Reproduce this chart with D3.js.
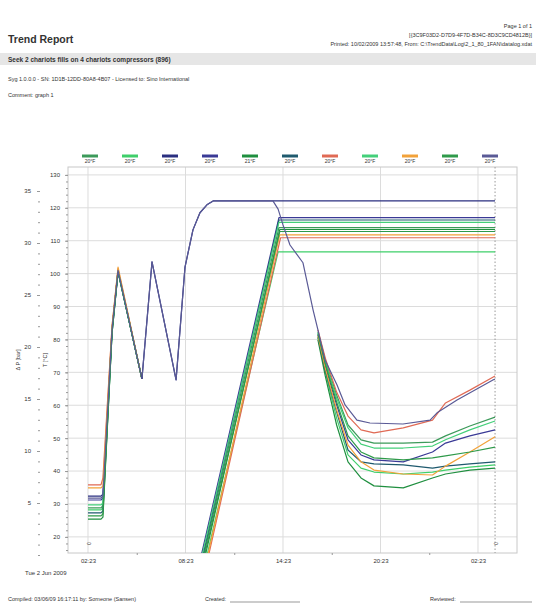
<!DOCTYPE html>
<html>
<head>
<meta charset="utf-8">
<script src="https://cdn.jsdelivr.net/npm/d3@7"></script>
<style>
body { margin: 0; background: #fff; }
svg { font-family: "Liberation Sans", Arial, sans-serif; }
svg text { fill: #333; }
</style>
</head>
<body>
<svg id="chart" width="536" height="606"></svg>
<script>
// series shown in the legend
const seriesNames = ["20°F", "20°F", "20°F", "20°F", "21°F", "20°F", "20°F", "20°F", "20°F", "20°F", "20°F"];
const seriesColors = ["#3c9a5a", "#3fcf6a", "#2a2f80", "#3a3a96", "#1f8f3f", "#1f5a6e",
                      "#e06a55", "#44d07a", "#f2a23a", "#2f9a4a", "#5a5a96"];

// axis ticks
const tickHours = [0, 6, 12, 18, 24];
const tickLabels = ["02:23", "08:23", "14:23", "20:23", "02:23"];
const tempTicks = [20, 30, 40, 50, 60, 70, 80, 90, 100, 110, 120, 130];
const pressTicks = [5, 10, 15, 20, 25, 30, 35];

// start-up spike, every series
const startHours = [0, 0.8, 0.92, 1.48, 1.85, 3.32];
const startValues = [
  [28.8, 28.8, 29.5, 83, 101, 68],
  [28.2, 28.2, 28.9, 83, 101, 68],
  [32.4, 32.4, 33.0, 83, 101, 68],
  [31.2, 31.2, 31.8, 83, 101, 68],
  [25.4, 25.4, 26.0, 82, 100.5, 68],
  [27.3, 27.3, 27.9, 82, 100.5, 68],
  [35.8, 35.8, 37.9, 84, 101.5, 68],
  [29.7, 29.7, 30.3, 83, 101, 68],
  [34.9, 34.9, 35.5, 84, 102, 68],
  [26.4, 26.4, 27.0, 82, 100.5, 68],
  [31.8, 31.8, 32.4, 83, 101, 68]
];

// second and third spike + long plateau (series 2)
const spikeHours = [3.32, 3.94, 5.42, 5.97, 6.46, 6.89, 7.32, 7.7, 11.38, 25.05];
const spikeValues = [68, 103.6, 67.7, 102, 113.3, 118.5, 120.9, 122.1, 122.1, 122.1];

// series 10 follows the spikes, then drops off the plateau
const descentHours = [3.32, 3.94, 5.42, 5.97, 6.46, 6.89, 7.32, 7.7, 11.38, 11.7, 12, 12.43, 13.23, 13.85,
                      14.15, 14.58, 15.32, 15.82, 16.55, 17.35, 19.38, 21.05, 21.48, 22.71, 24.92, 25.05];
const descentValues = [68, 103.6, 67.7, 102, 113.3, 118.5, 120.9, 122.1, 122.1, 119.6, 114.8, 108.7, 103.3, 89,
                       82.9, 73.8, 66.2, 60.1, 55.5, 54.6, 54.3, 55.5, 57.7, 61.6, 67.7, 67.9];

// ramp up to a plateau, other series
const rampSeries = [0, 1, 3, 4, 5, 6, 7, 8, 9];
const rampStart = [7.15, 7.35, 7.0, 7.25, 7.1, 7.45, 7.05, 7.4, 7.2];
const rampTop = [11.75, 11.7, 11.75, 11.8, 11.75, 11.85, 11.75, 11.8, 11.8];
const plateau = [114.0, 106.6, 117.0, 113.4, 116.3, 110.9, 115.6, 111.8, 112.8];
const rampFloor = 15;
const plateauEnd = 25.05;

// cool-down curves, same order as rampSeries
const fanHours = [14.15, 14.6, 15.3, 16.0, 16.8, 17.6, 19.4, 21.2, 22.0, 23.5, 25.05];
const fanValues = [
  [82.3, 73.8, 63.1, 54.0, 49.5, 48.5, 48.5, 48.8, 50.7, 53.7, 56.4],
  [80.5, 70.1, 56.1, 44.9, 40.9, 39.7, 39.1, 39.7, 40.3, 41.2, 41.9],
  [81.4, 72.0, 60.1, 49.5, 44.9, 43.4, 42.8, 45.8, 48.5, 50.7, 52.5],
  [79.9, 68.9, 54.0, 42.8, 37.9, 35.5, 34.9, 37.9, 39.1, 40.3, 40.9],
  [80.8, 70.7, 58.0, 46.4, 42.8, 42.2, 41.9, 40.9, 41.5, 42.2, 42.8],
  [82.9, 74.4, 64.0, 56.7, 52.5, 51.6, 53.1, 55.5, 60.7, 64.6, 68.9],
  [82.0, 73.2, 62.2, 53.1, 48.2, 47.0, 47.0, 47.6, 49.5, 52.5, 55.2],
  [81.1, 71.3, 58.6, 47.9, 42.8, 40.3, 39.1, 38.8, 41.5, 45.8, 50.4],
  [81.7, 72.6, 61.0, 50.7, 45.8, 44.0, 43.4, 44.0, 44.6, 45.8, 47.3]
];

const svg = d3.select("#chart");

// ---- page header ----
svg.append("text").attr("x", 8).attr("y", 43)
  .style("font-size", "10.5px").style("font-weight", "bold").text("Trend Report");

const rightHead = ["Page 1 of 1",
  "[{3C9F03D2-D7D9-4F7D-B34C-8D3C9CD4812B}]",
  "Printed: 10/02/2009 13:57:48, From: C:\\TrendData\\Log\\2_1_80_1FAN\\datalog.xdat"];
rightHead.forEach(function(t, i) {
  svg.append("text").attr("x", 532).attr("y", 28 + i * 9).attr("text-anchor", "end")
    .style("font-size", "5.5px").text(t);
});

svg.append("rect").attr("x", 0).attr("y", 53).attr("width", 536).attr("height", 12).attr("fill", "#e6e6e6");
svg.append("text").attr("x", 8).attr("y", 62)
  .style("font-size", "6.5px").style("font-weight", "bold")
  .text("Seek 2 chariots fills on 4 chariots compressors (896)");
svg.append("text").attr("x", 8).attr("y", 81).style("font-size", "5.5px")
  .text("Syg 1.0.0.0 - SN: 1D1B-12DD-80A8-4B07 - Licensed to: Sino International");
svg.append("text").attr("x", 8).attr("y", 97).style("font-size", "5.5px").text("Comment: graph 1");

// ---- scales ----
const plotLeft = 68, plotRight = 517, plotTop = 167, plotBottom = 553;

const x = d3.scaleLinear().domain([-1.23, 26.4]).range([plotLeft, plotRight]);
const y = d3.scaleLinear().domain([15.1, 132.4]).range([plotBottom, plotTop]);
const y2 = d3.scaleLinear().domain([0, 35]).range([555, 191]);

// ---- legend ----
const legend = svg.append("g").selectAll("g")
  .data(seriesNames)
  .enter()
  .append("g")
  .attr("transform", (d, i) => "translate(" + (90 + i * 40) + ",156)");

legend.append("line")
  .attr("x1", -8).attr("x2", 8)
  .attr("stroke", (d, i) => seriesColors[i])
  .attr("stroke-width", 3);

legend.append("text")
  .attr("y", 7).attr("text-anchor", "middle")
  .style("font-size", "5px")
  .text(d => d);

// ---- grid and frame ----
const grid = svg.append("g");
grid.selectAll(".h").data(tempTicks).enter().append("line")
  .attr("x1", plotLeft).attr("x2", plotRight)
  .attr("y1", d => y(d)).attr("y2", d => y(d))
  .attr("stroke", "#dcdcdc");
grid.selectAll(".v").data(tickHours).enter().append("line")
  .attr("x1", d => x(d)).attr("x2", d => x(d))
  .attr("y1", plotTop).attr("y2", plotBottom)
  .attr("stroke", "#dcdcdc");
svg.append("rect")
  .attr("x", plotLeft).attr("y", plotTop).attr("width", plotRight - plotLeft).attr("height", plotBottom - plotTop)
  .attr("fill", "none").attr("stroke", "#c8c8c8");

// cursor line
svg.append("line")
  .attr("x1", x(plateauEnd)).attr("x2", x(plateauEnd))
  .attr("y1", plotTop).attr("y2", plotBottom)
  .attr("stroke", "#999").attr("stroke-dasharray", "1.5,2");

// ---- axes ----
svg.append("g").attr("transform", "translate(" + plotLeft + ",0)")
  .call(d3.axisLeft(y).tickValues(tempTicks).tickSize(3).tickPadding(5));
svg.append("g").attr("transform", "translate(" + plotLeft + ",0)")
  .call(d3.axisLeft(y).tickValues(d3.range(16, 132, 2)).tickSize(2).tickFormat(""));

svg.append("g").attr("transform", "translate(40,0)")
  .call(d3.axisLeft(y2).tickValues(pressTicks).tickSize(3).tickPadding(6));
svg.append("g").attr("transform", "translate(40,0)")
  .call(d3.axisLeft(y2).tickValues(d3.range(0, 36, 1)).tickSize(2).tickFormat(""));

svg.append("g").attr("transform", "translate(0," + plotBottom + ")")
  .call(d3.axisBottom(x).tickValues(tickHours).tickSize(0).tickPadding(6)
    .tickFormat((d, i) => tickLabels[i]));
svg.append("g").attr("transform", "translate(0," + plotBottom + ")")
  .call(d3.axisBottom(x).tickValues([3, 9, 15, 21]).tickSize(2).tickFormat(""));

svg.selectAll(".domain").attr("stroke", "none");
svg.selectAll(".tick line").attr("stroke", "#999");
svg.selectAll(".tick text").style("font-size", "6px").attr("fill", "#333");

svg.append("text").attr("transform", "translate(20,360) rotate(-90)")
  .attr("text-anchor", "middle").style("font-size", "5.5px").text("Δ P [bar]");
svg.append("text").attr("transform", "translate(47,360) rotate(-90)")
  .attr("text-anchor", "middle").style("font-size", "5.5px").text("T [°C]");
svg.append("text").attr("x", 25).attr("y", 575).style("font-size", "6px").text("Tue 2 Jun 2009");

[0, plateauEnd].forEach(function(h) {
  svg.append("text").attr("transform", "translate(" + (x(h) + 3) + ",545) rotate(-90)")
    .style("font-size", "5px").text("0");
});

// ---- lines ----
svg.append("clipPath").attr("id", "plotClip").append("rect")
  .attr("x", plotLeft).attr("y", plotTop).attr("width", plotRight - plotLeft).attr("height", plotBottom - plotTop);

const plot = svg.append("g").attr("clip-path", "url(#plotClip)");
const line = d3.line().x(d => x(d[0])).y(d => y(d[1]));

function drawLine(hours, values, color) {
  plot.append("path")
    .datum(hours.map((h, k) => [h, values[k]]))
    .attr("d", line)
    .attr("fill", "none")
    .attr("stroke", color)
    .attr("stroke-width", 1.2)
    .attr("stroke-linejoin", "round");
}

// ramps and plateaus
rampSeries.forEach(function(s, i) {
  drawLine([rampStart[i], rampTop[i], plateauEnd], [rampFloor, plateau[i], plateau[i]], seriesColors[s]);
});

// cool-down curves
rampSeries.forEach(function(s, i) {
  drawLine(fanHours, fanValues[i], seriesColors[s]);
});

// start-up spikes
startValues.forEach(function(v, s) {
  drawLine(startHours, v, seriesColors[s]);
});

drawLine(spikeHours, spikeValues, seriesColors[2]);
drawLine(descentHours, descentValues, seriesColors[10]);

// ---- footer ----
svg.append("text").attr("x", 8).attr("y", 601).style("font-size", "5.5px")
  .text("Compiled: 03/06/09 16:17:11 by: Someone (Sansen)");
svg.append("text").attr("x", 205).attr("y", 601).style("font-size", "5.5px").text("Created:");
svg.append("line").attr("x1", 230).attr("x2", 300).attr("y1", 602).attr("y2", 602).attr("stroke", "#555").attr("stroke-width", 0.6);
svg.append("text").attr("x", 430).attr("y", 601).style("font-size", "5.5px").text("Reviewed:");
svg.append("line").attr("x1", 460).attr("x2", 532).attr("y1", 602).attr("y2", 602).attr("stroke", "#555").attr("stroke-width", 0.6);
</script>
</body>
</html>
